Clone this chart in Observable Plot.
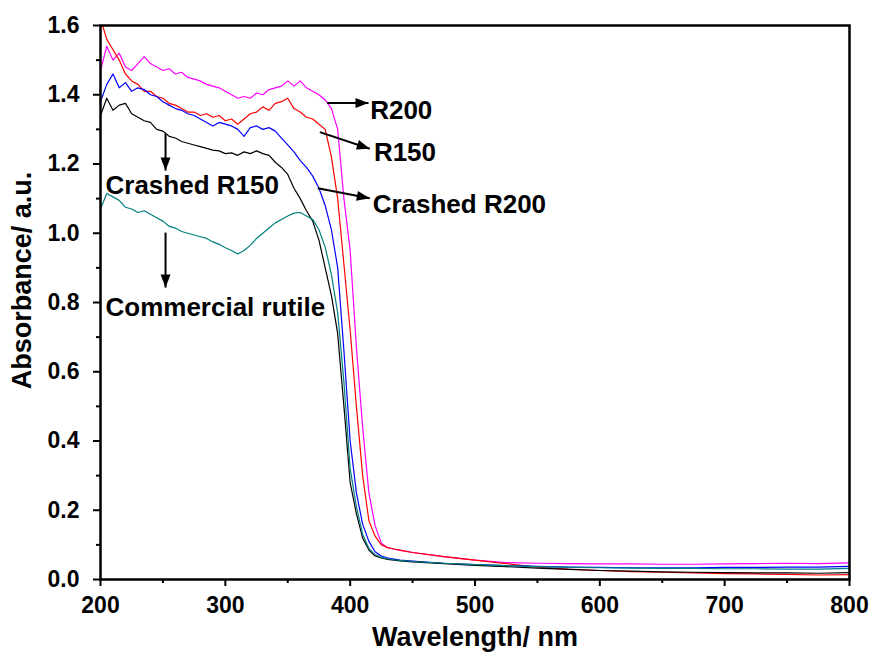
<!DOCTYPE html>
<html>
<head>
<meta charset="utf-8">
<script src="https://cdn.jsdelivr.net/npm/d3@7"></script>
<script src="https://cdn.jsdelivr.net/npm/@observablehq/plot@0.6"></script>
<style>
  html, body { margin: 0; padding: 0; background: #fff; }
  #chart svg { display: block; }
</style>
</head>
<body>
<div id="chart"></div>
<script>
// ---- Data ----
const wavelength = [
  200,205,210,215,220,225,230,235,240,245,250,255,260,265,270,275,280,285,290,295,
  300,305,310,315,320,325,330,335,340,345,350,355,360,365,370,375,380,385,390,395,
  400,405,410,415,420,425,430,435,440,
  450,475,500,525,550,575,600,625,650,675,700,725,750,775,800
];
const absR200 = [
  1.47,1.54,1.50,1.52,1.48,1.47,1.49,1.51,1.49,1.48,1.47,1.475,1.46,1.465,1.45,1.445,1.44,1.43,1.425,1.42,
  1.41,1.40,1.39,1.395,1.39,1.405,1.40,1.415,1.42,1.425,1.44,1.425,1.44,1.42,1.41,1.40,1.385,1.36,1.30,1.10,
  0.95,0.67,0.44,0.25,0.155,0.105,0.092,0.088,0.084,
  0.078,0.066,0.056,0.049,0.047,0.046,0.045,0.045,0.044,0.044,0.045,0.046,0.047,0.046,0.048
];
const absR150 = [
  1.62,1.56,1.53,1.50,1.46,1.44,1.43,1.41,1.41,1.395,1.39,1.375,1.37,1.36,1.35,1.35,1.34,1.345,1.335,1.34,
  1.325,1.33,1.315,1.33,1.345,1.35,1.365,1.355,1.375,1.38,1.39,1.36,1.35,1.335,1.33,1.315,1.30,1.22,1.10,0.91,
  0.72,0.50,0.30,0.17,0.125,0.10,0.092,0.088,0.085,
  0.078,0.066,0.056,0.046,0.036,0.030,0.026,0.023,0.021,0.019,0.017,0.016,0.015,0.013,0.014
];
const absCrashedR200 = [
  1.38,1.43,1.46,1.42,1.435,1.41,1.42,1.415,1.40,1.395,1.38,1.37,1.36,1.355,1.345,1.34,1.33,1.32,1.31,1.32,
  1.315,1.31,1.30,1.28,1.305,1.31,1.30,1.305,1.295,1.275,1.255,1.235,1.21,1.19,1.165,1.13,1.08,1.01,0.90,0.66,
  0.40,0.25,0.16,0.11,0.08,0.068,0.062,0.059,0.056,
  0.053,0.047,0.043,0.040,0.038,0.036,0.035,0.034,0.034,0.034,0.035,0.035,0.036,0.036,0.038
];
const absCrashedR150 = [
  1.34,1.39,1.355,1.37,1.375,1.345,1.335,1.325,1.32,1.30,1.295,1.28,1.275,1.265,1.26,1.255,1.25,1.245,1.24,1.238,
  1.23,1.232,1.225,1.235,1.23,1.238,1.23,1.225,1.205,1.19,1.17,1.13,1.10,1.065,1.035,0.98,0.90,0.82,0.71,0.50,
  0.28,0.19,0.12,0.085,0.068,0.062,0.058,0.056,0.054,
  0.051,0.046,0.041,0.037,0.033,0.029,0.026,0.024,0.022,0.021,0.020,0.019,0.019,0.018,0.020
];
const absCommercial = [
  1.07,1.115,1.105,1.095,1.075,1.07,1.06,1.065,1.055,1.045,1.035,1.02,1.015,1.005,1.0,0.995,0.99,0.985,0.975,0.968,
  0.958,0.95,0.94,0.95,0.965,0.985,1.0,1.015,1.03,1.04,1.05,1.058,1.06,1.05,1.04,1.01,0.96,0.88,0.77,0.57,
  0.32,0.21,0.13,0.09,0.072,0.064,0.06,0.057,0.055,
  0.052,0.047,0.043,0.040,0.037,0.035,0.034,0.033,0.032,0.032,0.031,0.031,0.030,0.030,0.032
];
const seriesNames = ["R200", "R150", "Crashed R200", "Crashed R150", "Commercial rutile"];
const seriesColors = ["#ff00ff", "#ff0000", "#0000ff", "#000000", "#008080"];
const xTicks = [200, 300, 400, 500, 600, 700, 800];
const xMinorTicks = [250, 350, 450, 550, 650, 750];
const yTicks = [0, 0.2, 0.4, 0.6, 0.8, 1.0, 1.2, 1.4, 1.6];
const yMinorTicks = [0.1, 0.3, 0.5, 0.7, 0.9, 1.1, 1.3, 1.5];

// annotation labels and arrows (data units)
const labelText = ["R200", "R150", "Crashed R200", "Crashed R150", "Commercial rutile"];
const labelX = [416, 419, 418, 204, 204];
const labelY = [1.355, 1.233, 1.083, 1.138, 0.786];
const arrowX1 = [381.6, 375.7, 374.1, 252.1, 252.1];
const arrowY1 = [1.376, 1.292, 1.130, 1.288, 1.002];
const arrowX2 = [414.7, 415.7, 415.7, 252.1, 252.1];
const arrowY2 = [1.376, 1.244, 1.101, 1.181, 0.843];

// ---- Build tables ----
const seriesValues = [absR200, absR150, absCrashedR200, absCrashedR150, absCommercial];
const rows = seriesNames.flatMap((name, i) =>
  wavelength.map((w, j) => ({name, wl: w, a: seriesValues[i][j]})));
const labels = labelText.map((t, i) => ({t, x: labelX[i], y: labelY[i]}));
const arrows = arrowX1.map((x1, i) => ({x1, y1: arrowY1[i], x2: arrowX2[i], y2: arrowY2[i]}));

const W = 874, H = 658, ML = 100, MR = 25, MT = 25, MB = 79;
const xDomain = [200, 800], yDomain = [0, 1.6];
const kx = (W - ML - MR) / (xDomain[1] - xDomain[0]);
const ky = (H - MT - MB) / (yDomain[1] - yDomain[0]);
const headSymbol = {
  draw(ctx) {
    ctx.moveTo(0, 0);
    ctx.lineTo(-5, 13);
    ctx.lineTo(5, 13);
    ctx.closePath();
  }
};
const headAngle = d => Math.atan2(-(d.y2 - d.y1) * ky, (d.x2 - d.x1) * kx) * 180 / Math.PI + 90;

const font = "'Liberation Sans', Arial, Helvetica, sans-serif";

const plot = Plot.plot({
  width: W, height: H,
  marginLeft: ML, marginRight: MR, marginTop: MT, marginBottom: MB,
  style: {fontFamily: font, background: "#fff", color: "#000"},
  x: {domain: xDomain},
  y: {domain: yDomain},
  color: {domain: seriesNames, range: seriesColors},
  marks: [
    Plot.line(rows, {x: "wl", y: "a", z: "name", stroke: "name", strokeWidth: 1.2, clip: true}),
    Plot.link(arrows, {x1: "x1", y1: "y1", x2: "x2", y2: "y2", stroke: "#000", strokeWidth: 2}),
    Plot.dot(arrows, {x: "x2", y: "y2", symbol: headSymbol, r: 5, fill: "#000", stroke: "none", rotate: headAngle}),
    Plot.text(labels, {x: "x", y: "y", text: "t", textAnchor: "start", lineAnchor: "middle", fontSize: 26, fontWeight: "bold", fill: "#000"}),
    Plot.axisX({ticks: xTicks, tickSize: 7, tickPadding: 10, tickFormat: d3.format("d"), fontSize: 23, fontWeight: "bold", strokeWidth: 2, label: null}),
    Plot.axisX({ticks: xMinorTicks, tickSize: 4, tickFormat: () => "", strokeWidth: 2, label: null}),
    Plot.axisY({ticks: yTicks, tickSize: 7, tickPadding: 14, tickFormat: d3.format(".1f"), fontSize: 23, fontWeight: "bold", strokeWidth: 2, label: null}),
    Plot.axisY({ticks: yMinorTicks, tickSize: 4, tickFormat: () => "", strokeWidth: 2, label: null}),
    Plot.frame({stroke: "#000", strokeWidth: 2.5}),
    Plot.text(["Wavelength/ nm"], {frameAnchor: "bottom", textAnchor: "middle", lineAnchor: "middle", dy: 58, fontSize: 27, fontWeight: "bold", fill: "#000"}),
    Plot.text(["Absorbance/ a.u."], {frameAnchor: "left", textAnchor: "middle", lineAnchor: "middle", dx: -78, dy: -22, rotate: -90, fontSize: 27, fontWeight: "bold", fill: "#000"})
  ]
});
document.getElementById("chart").appendChild(plot);
</script>
</body>
</html>
